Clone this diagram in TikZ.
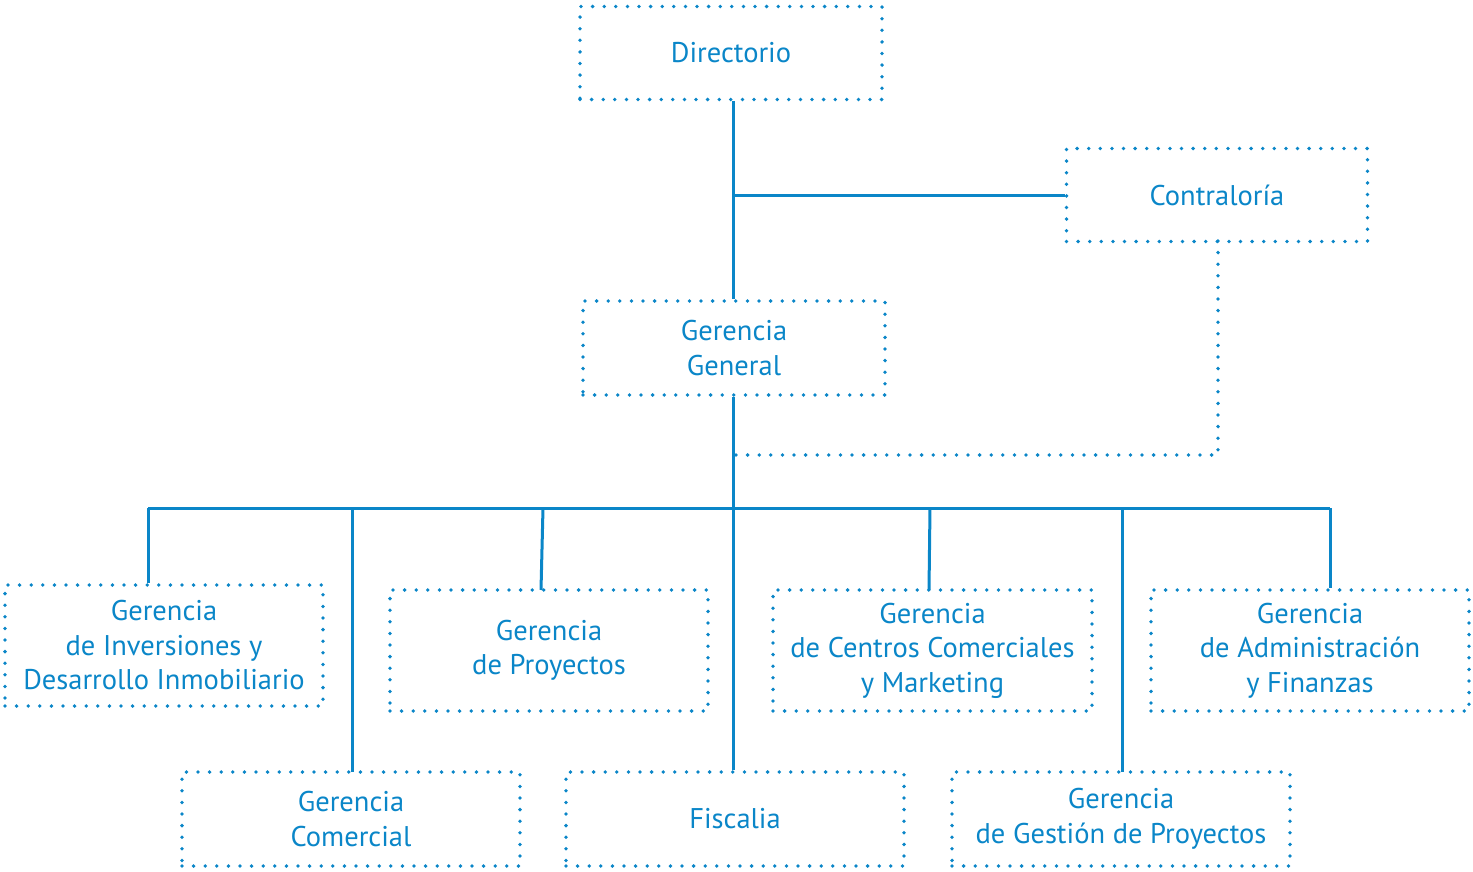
\documentclass[tikz,border=0pt]{standalone}
\usepackage{fontspec}
\setmainfont{PT Sans}
\definecolor{cblue}{HTML}{0A86C8}
\begin{document}
\begin{tikzpicture}[x=1pt,y=-1pt,
  box/.style={draw=cblue, line width=3.8pt, line cap=round, dash pattern=on 0pt off 11.6pt,
    rectangle, inner sep=0pt, align=center, text=cblue, font=\fontsize{28.5}{34.5}\selectfont},
  conn/.style={draw=cblue, line width=3pt},
  dconn/.style={draw=cblue, line width=3.8pt, line cap=round, dash pattern=on 0pt off 11.6pt}]
\useasboundingbox (0,0) rectangle (1473,872);
\node[box, minimum width=302pt, minimum height=93pt] (dir) at (731,53) {Directorio};
\node[box, minimum width=301pt, minimum height=93pt] (con) at (1217,195) {Contraloría};
\node[box, minimum width=302pt, minimum height=94pt] (gg) at (734,348) {Gerencia\\General};
\node[box, minimum width=318pt, minimum height=121pt] (inv) at (164,645.5) {Gerencia\\de Inversiones y\\Desarrollo Inmobiliario};
\node[box, minimum width=318pt, minimum height=121pt] (pro) at (549,650.5) {Gerencia\\de Proyectos};
\node[box, minimum width=319pt, minimum height=121pt] (cen) at (932.5,650.5) {Gerencia\\de Centros Comerciales\\y Marketing};
\node[box, minimum width=318pt, minimum height=121pt] (adm) at (1310,650.5) {Gerencia\\de Administración\\y Finanzas};
\node[box, minimum width=338pt, minimum height=94pt] (com) at (351,819) {Gerencia\\Comercial};
\node[box, minimum width=338pt, minimum height=94pt] (fis) at (735,819) {Fiscalia};
\node[box, minimum width=338pt, minimum height=94pt] (ges) at (1121,819) {Gerencia\\de Gestión de Proyectos};
% spine
\coordinate (sp) at (733,0);
\coordinate (busL) at (148,508);
\coordinate (busR) at (1330,508);
\coordinate (bend) at (0,455);
\draw[conn] (sp |- dir.south) -- (sp |- gg.north);
\draw[conn] (sp |- gg.south) -- (sp |- fis.north);
\draw[conn] (con.west) -- (con.west -| sp);
\draw[dconn] (1218,241) -- (1218,455) -- (sp |- bend);
\draw[conn] (busL) -- (busR);
\draw[conn] (busL) -- (busL |- inv.north);
\draw[conn] (352,508) -- (352,772);
\draw[conn] (543,508) -- (541,590);
\draw[conn] (930,508) -- (929,590);
\draw[conn] (1122,508) -- (1122,772);
\draw[conn] (busR) -- (busR |- adm.north);
\end{tikzpicture}
\end{document}
